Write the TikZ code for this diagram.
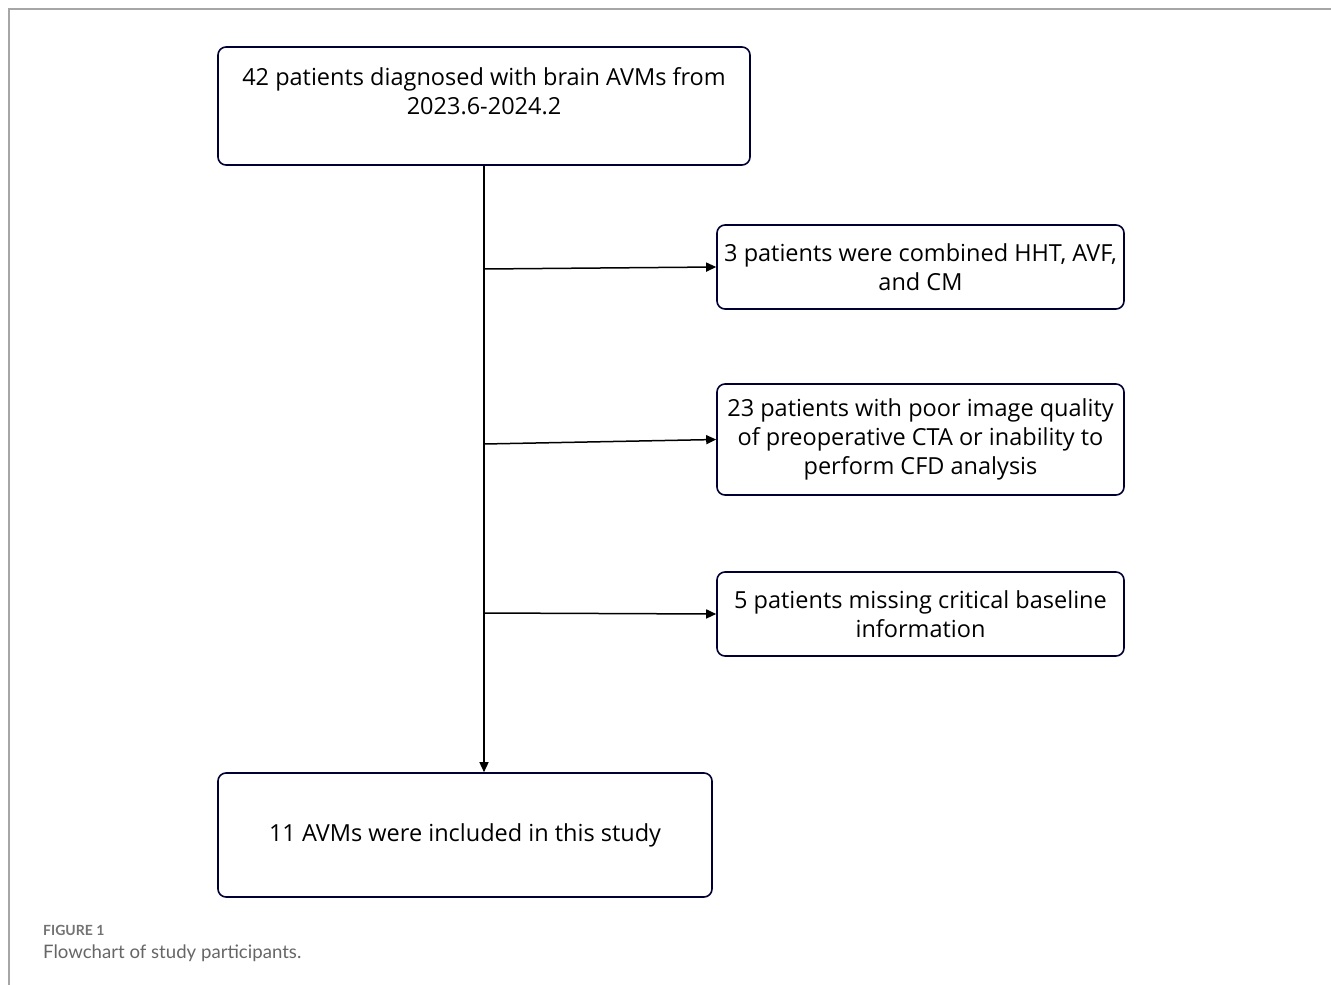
\documentclass[tikz,border=0pt]{standalone}
\usepackage{fontspec}
\setmainfont{Open Sans}
\newfontfamily\capfont{Lato}
\usetikzlibrary{positioning,arrows.meta}

\begin{document}
\begin{tikzpicture}[x=1pt, y=-1pt, font=\fontsize{23.5}{29}\selectfont]
	% styles
	\tikzstyle{box} = [draw=black!80!blue, line width=1.6pt, rounded corners=8pt, align=center, inner sep=0pt]
	\tikzstyle{arrow} = [line width=1.5pt, ->, >={Triangle[length=10pt,width=9pt]}]
	\tikzstyle{frame} = [draw=black!35, line width=2pt]

	\useasboundingbox (0,0) rectangle (1331,985);
	\draw [frame] (9,985) -- (9,9) -- (1331,9);

	% boxes
	\node [box, minimum width=532pt, minimum height=118pt] (diag) at (484,106) {};
	\node [align=center, anchor=north, inner sep=0pt] (diagtext) at ([yshift=-21pt]diag.north) {42 patients diagnosed with brain AVMs from\\2023.6-2024.2};
	\node [box, minimum width=407pt, minimum height=84pt] (hht) at (920.5,267) {3 patients were combined HHT, AVF,\\and CM};
	\node [box, minimum width=407pt, minimum height=111pt] (cta) at (920.5,439.5) {23 patients with poor image quality\\of preoperative CTA or inability to\\perform CFD analysis};
	\node [box, minimum width=407pt, minimum height=84pt] (base) at (920.5,614) {5 patients missing critical baseline\\information};
	\node [box, minimum width=494pt, minimum height=124pt] (incl) at (465,835) {11 AVMs were included in this study};

	% branch points
	\coordinate (b1) at (484,269);
	\coordinate (b2) at (484,444);
	\coordinate (b3) at (484,613);

	% arrows
	\draw [arrow] (diag.south -| b1) -- (b1 |- incl.north);
	\draw [arrow] (b1) -- (hht.west);
	\draw [arrow] (b2) -- (cta.west);
	\draw [arrow] (b3) -- (base.west);

	% caption
	\node [anchor=west, inner sep=0pt, text=black!55, font=\capfont\bfseries\fontsize{14}{16}\selectfont] (fig) at (43,930) {FIGURE 1};
	\node [anchor=west, inner sep=0pt, text=black!60, font=\capfont\fontsize{18.6}{22}\selectfont] (cap) at (43,953) {Flowchart of study participants.};
\end{tikzpicture}
\end{document}
